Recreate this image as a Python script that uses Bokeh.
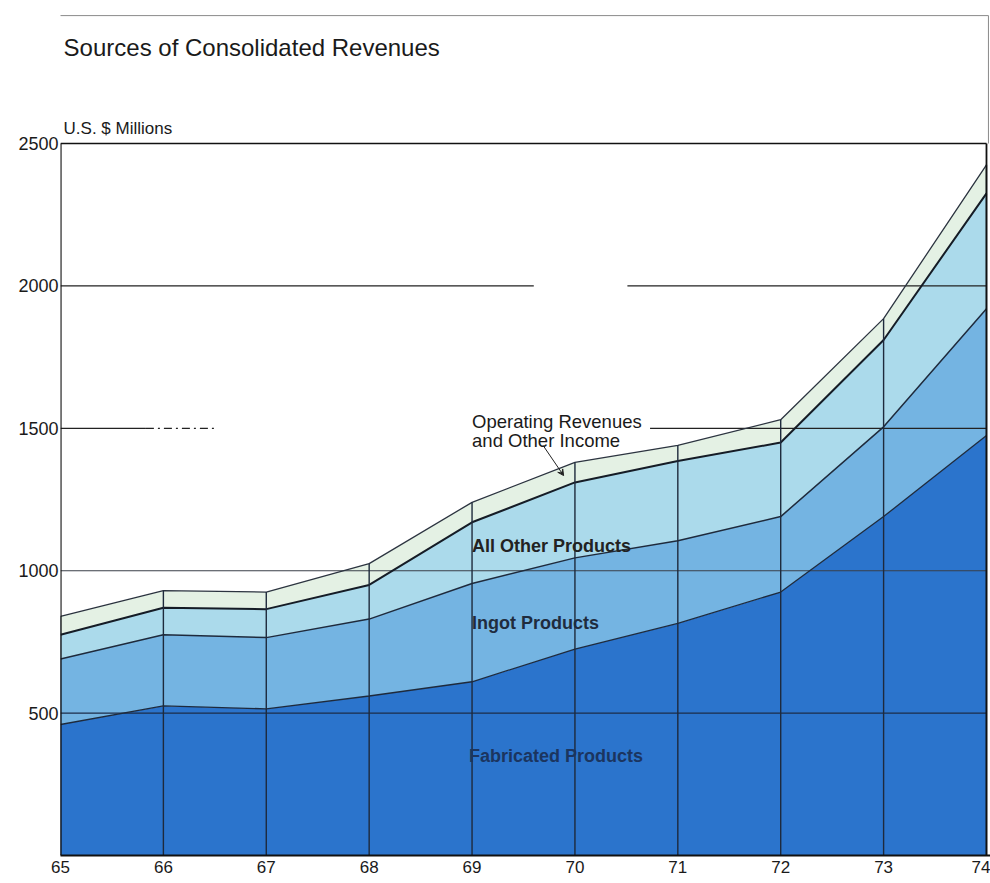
from bokeh.plotting import figure
from bokeh.models import (ColumnDataSource, Range1d, FixedTicker, Label,
                          Arrow, VeeHead)
from bokeh.embed import file_html
from bokeh.resources import INLINE
import numpy as np

# Revenue sources, U.S. $ millions, fiscal years 1965-1974
years = [65, 66, 67, 68, 69, 70, 71, 72, 73, 74]
year_labels = ["65", "66", "67", "68", "69", "70", "71", "72", "73", "74"]
fabricated = [460, 525, 515, 560, 610, 725, 815, 925, 1190, 1475]
ingot = [230, 250, 250, 270, 345, 320, 290, 265, 315, 445]
all_other = [85, 95, 100, 120, 215, 265, 280, 260, 305, 405]
operating = [65, 60, 60, 75, 70, 70, 55, 80, 75, 100]
y_ticks = [500, 1000, 1500, 2000, 2500]
y_top = 2500

series = ["fabricated", "ingot", "all_other", "operating"]
colors = ["#2b74cc", "#74b4e2", "#abdaeb", "#e4f1e4"]

src = ColumnDataSource(dict(year=years, fabricated=fabricated, ingot=ingot,
                            all_other=all_other, operating=operating))
tops = np.cumsum(np.array([fabricated, ingot, all_other, operating]), axis=0)
src.data["top_fab"] = tops[0]
src.data["top_ingot"] = tops[1]
src.data["top_other"] = tops[2]
src.data["total"] = tops[3]

FONT = "Liberation Sans"
INK = "#1e2a3c"

# the plotting area reaches up to the page top so the heading shares its scale
p = figure(width=990, height=883, output_backend="svg", toolbar_location=None,
           x_range=Range1d(65, 74.039), y_range=Range1d(0, 3002),
           min_border_left=60, min_border_right=0, min_border_top=0,
           min_border_bottom=28)
p.background_fill_color = "white"
p.border_fill_color = "white"
p.grid.visible = False
p.outline_line_color = None

# stacked revenue bands
p.varea_stack(series, x="year", color=colors, source=src)

# horizontal reference lines
for v, c, w in [(500, "#1c2c48", 1.3), (1000, "#3a3f48", 1.1)]:
    p.segment(x0=[65], y0=[v], x1=[74], y1=[v], line_color=c, line_width=w)
p.segment(x0=[65.0, 70.51], y0=[2000, 2000], x1=[69.60, 74.0], y1=[2000, 2000],
          line_color="#222222", line_width=1.2)
p.segment(x0=[65.0, 70.73], y0=[1500, 1500], x1=[65.83, 74.0], y1=[1500, 1500],
          line_color="#222222", line_width=1.2)
p.segment(x0=[65.83], y0=[1500], x1=[66.51], y1=[1500],
          line_color="#222222", line_width=1.2, line_dash="8 4 2 4")

# band boundaries
p.line("year", "top_fab", source=src, line_color=INK, line_width=1.3)
p.line("year", "top_ingot", source=src, line_color=INK, line_width=1.5)
p.line("year", "top_other", source=src, line_color="#151c26", line_width=2.0)
p.line("year", "total", source=src, line_color="#2c3440", line_width=1.3)

# year columns up to the total
p.segment(x0="year", y0=0, x1="year", y1="total", source=src,
          line_color=INK, line_width=1.4)

# chart box: left axis, top rule and right edge
p.segment(x0=[65], y0=[0], x1=[65], y1=[y_top], line_color="#111111", line_width=2.2)
p.segment(x0=[65], y0=[y_top], x1=[74], y1=[y_top], line_color="#111111", line_width=1.6)
p.segment(x0=[74], y0=[0], x1=[74], y1=[y_top], line_color="#111111", line_width=1.8)

# page frame around the heading
p.segment(x0=[64.5, 74.019], y0=[2949, 2949], x1=[74.019, 74.019], y1=[2949, y_top],
          line_color="#8a8a8a", line_width=1)

# axes
p.xaxis.ticker = FixedTicker(ticks=years)
p.xaxis.major_label_overrides = {y: l for y, l in zip(years, year_labels)}
p.yaxis.ticker = FixedTicker(ticks=y_ticks)
for ax in (p.xaxis, p.yaxis):
    ax.major_tick_out = 0
    ax.major_tick_in = 0
    ax.minor_tick_out = 0
    ax.minor_tick_in = 0
    ax.major_label_text_font = FONT
    ax.major_label_text_color = "#1a1a1a"
p.yaxis.axis_line_color = None
p.xaxis.axis_line_color = "#111111"
p.xaxis.axis_line_width = 2
p.yaxis.major_label_standoff = 2
p.yaxis.major_label_text_font_size = "18px"
p.xaxis.major_label_standoff = 5
p.xaxis.major_label_text_font_size = "17px"

# headings
p.add_layout(Label(x=65.03, y=2837, text="Sources of Consolidated Revenues",
                   text_font=FONT, text_font_size="24px", text_color="#1a1a1a",
                   text_baseline="alphabetic"))
p.add_layout(Label(x=65.03, y=2553, text="U.S. $ Millions",
                   text_font=FONT, text_font_size="17px", text_color="#1a1a1a",
                   text_baseline="alphabetic"))

# band labels
p.add_layout(Label(x=69.0, y=1524, text="Operating Revenues",
                   text_font=FONT, text_font_size="18.5px", text_color="#1a1a1a",
                   text_baseline="alphabetic"))
p.add_layout(Label(x=69.0, y=1457, text="and Other Income",
                   text_font=FONT, text_font_size="18.5px", text_color="#1a1a1a",
                   text_baseline="alphabetic"))
p.add_layout(Arrow(x_start=69.69, y_start=1440, x_end=69.89, y_end=1334,
                   line_color="#222222", line_width=1,
                   end=VeeHead(size=6, line_color="#222222", fill_color="#222222",
                               line_width=1)))
p.add_layout(Label(x=69.0, y=1088, text="All Other Products",
                   text_font=FONT, text_font_size="18px", text_font_style="bold",
                   text_color="#222222", text_baseline="alphabetic"))
p.add_layout(Label(x=69.0, y=815, text="Ingot Products",
                   text_font=FONT, text_font_size="18px", text_font_style="bold",
                   text_color="#1f2c3e", text_baseline="alphabetic"))
p.add_layout(Label(x=68.97, y=348, text="Fabricated Products",
                   text_font=FONT, text_font_size="18px", text_font_style="bold",
                   text_color="#1b355f", text_baseline="alphabetic"))

open("out.html", "w").write(file_html(p, INLINE))
